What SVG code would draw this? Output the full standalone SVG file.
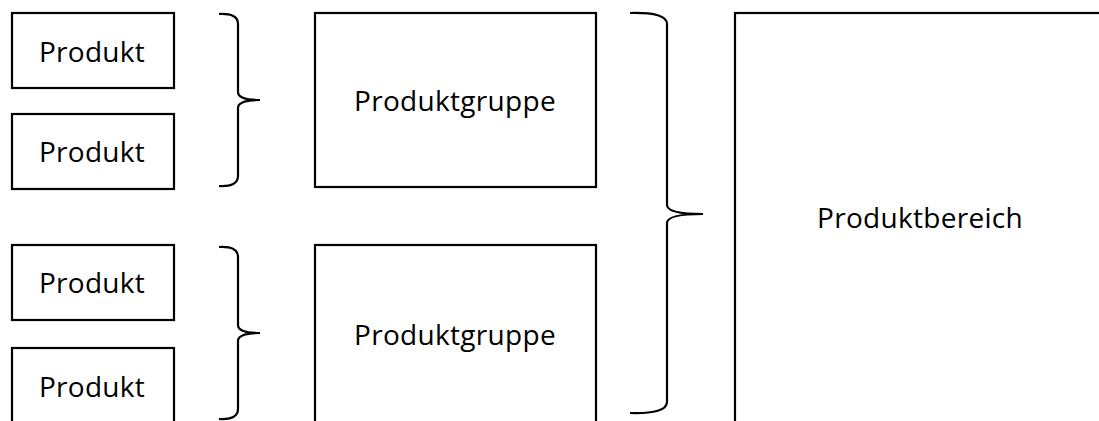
<svg xmlns="http://www.w3.org/2000/svg" width="1099" height="421" viewBox="0 0 1099 421">
<style>
.box{fill:#fff;stroke:#000;stroke-width:2.2}
.lbl{font-family:"Open Sans","Noto Sans",sans-serif;font-size:28px;letter-spacing:0.3px;fill:#000;text-anchor:middle}
.br{fill:none;stroke:#000;stroke-width:2.2}
</style>
<rect width="1099" height="421" fill="#fff"/>
<g id="produkt1"><rect class="box" x="12" y="13" width="162" height="75"/><text class="lbl" x="92" y="62">Produkt</text></g>
<g id="produkt2"><rect class="box" x="12" y="114" width="162" height="75"/><text class="lbl" x="92" y="162">Produkt</text></g>
<g id="produkt3"><rect class="box" x="12" y="245" width="162" height="75"/><text class="lbl" x="92" y="293">Produkt</text></g>
<g id="produkt4"><rect class="box" x="12" y="348" width="162" height="80"/><text class="lbl" x="92" y="397">Produkt</text></g>
<g id="produktgruppe1"><rect class="box" x="315" y="13" width="281" height="174"/><text class="lbl" x="455" y="111">Produktgruppe</text></g>
<g id="produktgruppe2"><rect class="box" x="315" y="245" width="281" height="190"/><text class="lbl" x="455" y="345">Produktgruppe</text></g>
<g id="produktbereich"><rect class="box" x="735" y="13" width="400" height="420"/><text class="lbl" x="920" y="228">Produktbereich</text></g>
<g id="connectors">
<path class="br" d="M219,14 Q238,13 238,24 L238,92 Q238,100 260,100 Q238,100 238,108 L238,176 Q238,187 219,186"/>
<path class="br" d="M219,247 Q238,246 238,257 L238,325 Q238,333 260,333 Q238,333 238,341 L238,409 Q238,420 219,419"/>
<path class="br" d="M630,13 Q667,12 667,24 L667,205 Q667,214 703,214 Q667,214 667,223 L667,402 Q667,414 630,413"/>
</g>
</svg>
